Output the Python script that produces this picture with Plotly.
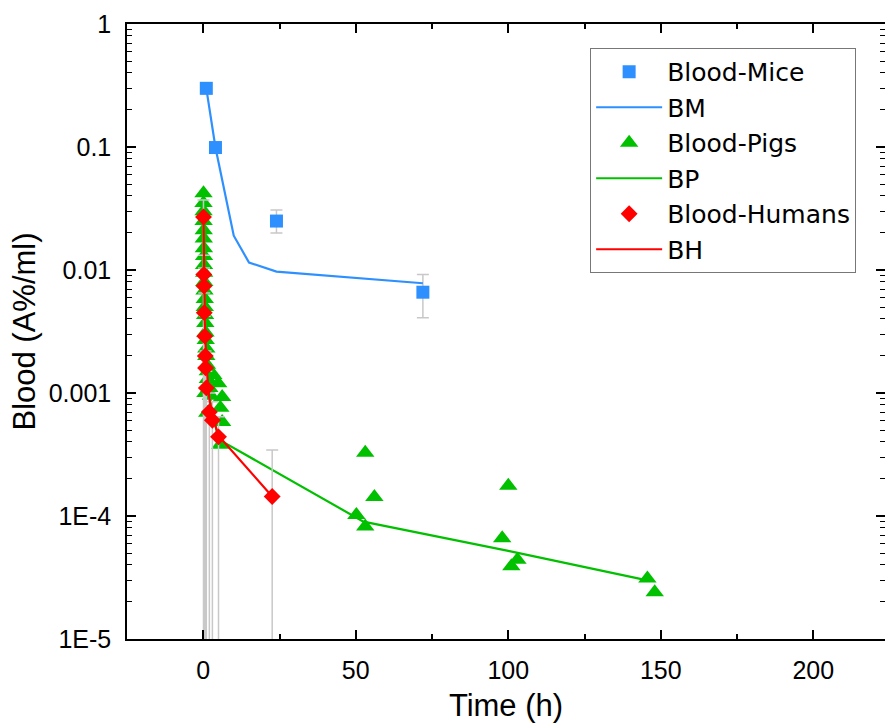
import plotly.graph_objects as go

# ---------------- data ----------------
mice_t = [1, 4, 24, 72]
mice_v = [0.30, 0.099, 0.025, 0.0066]
mice_err_plus = [0.03, 0.006, 0.0057, 0.0026]
mice_err_minus = [0.03, 0.006, 0.005, 0.0025]

bm_t = [1, 4, 10, 15, 24, 72]
bm_v = [0.30, 0.099, 0.019, 0.0115, 0.0097, 0.0078]

pigs_t = [0.08, 0.08, 0.1, 0.12, 0.15, 0.17, 0.2, 0.25, 0.25, 0.3, 0.33, 0.4,
          0.5, 0.5, 0.6, 0.67, 0.75, 0.8, 1.0, 1.0, 1.2, 1.5, 1.5, 2.0, 2.5,
          0.7, 1.3, 3.3, 4.9, 6.2, 5.6, 6.2, 5.6,
          50.2, 53.1, 53.1, 56.1, 98, 100, 101, 103, 145.6, 148]
pigs_v = [0.042, 0.035, 0.030, 0.025, 0.021, 0.018, 0.015, 0.013, 0.011, 0.0095, 0.008, 0.0068,
          0.0058, 0.005, 0.0043, 0.0037, 0.0031, 0.0027, 0.0023, 0.002, 0.0017, 0.0015, 0.0013, 0.0011, 0.00095,
          0.001, 0.00069, 0.0014, 0.0012, 0.00093, 0.00076, 0.00058, 0.00038,
          1.02e-4, 3.27e-4, 8.2e-5, 1.43e-4, 6.6e-5, 1.76e-4, 3.9e-5, 4.4e-5, 3.1e-5, 2.4e-5]

bp_t = [0.08, 0.25, 0.5, 1, 2, 3, 5, 52.5, 100, 145.6]
bp_v = [0.04, 0.012, 0.0052, 0.0021, 0.001, 0.0007, 0.00042, 9.0e-5, 5.2e-5, 3.0e-5]

hum_t = [0.08, 0.17, 0.25, 0.33, 0.5, 0.67, 0.75, 1.0, 2.0, 3.0, 5.0, 22.6]
hum_v = [0.027, 0.0092, 0.0074, 0.0045, 0.0029, 0.002, 0.0016, 0.0011, 0.0007, 0.0006, 0.00044, 0.000144]
hum_err_plus = [0.01, 0.004, 0.003, 0.002, 0.0013, 0.0008, 0.0006, 0.0004, 0.0003, 0.00025, 0.0002, 0.0002]
hum_err_minus = [1, 1, 1, 1, 1, 1, 1, 1, 1, 1, 1, 1]

bh_t = [0.08, 0.17, 0.25, 0.5, 1, 2, 3, 5, 22.6]
bh_v = [0.027, 0.012, 0.0075, 0.0038, 0.0017, 0.0009, 0.00065, 0.00045, 0.000144]

x_ticks = [0, 50, 100, 150, 200]
y_ticks = [1, 0.1, 0.01, 0.001, 1e-4, 1e-5]
y_tick_text = ["1", "0.1", "0.01", "0.001", "1E-4", "1E-5"]

# ---------------- style ----------------
BLUE = "#2E90FF"
GREEN = "#00C000"
RED = "#FF0000"
ERR = "#C8C8C8"
FONT = "Liberation Sans, Arial, sans-serif"
LEGFONT = "DejaVu Sans, Liberation Sans, sans-serif"

minor_y = [k * 10.0 ** e for e in range(-5, 0) for k in range(2, 10)]

fig = go.Figure()

fig.add_trace(go.Scatter(
    x=mice_t, y=mice_v, mode="markers", name="Blood-Mice",
    marker=dict(symbol="square", size=13, color=BLUE),
    error_y=dict(type="data", array=mice_err_plus, arrayminus=mice_err_minus,
                 color=ERR, thickness=1.5, width=6),
))
fig.add_trace(go.Scatter(
    x=bm_t, y=bm_v, mode="lines", name="BM",
    line=dict(color=BLUE, width=2.2),
))
fig.add_trace(go.Scatter(
    x=pigs_t, y=pigs_v, mode="markers", name="Blood-Pigs",
    marker=dict(symbol="triangle-up", size=16, color=GREEN),
))
fig.add_trace(go.Scatter(
    x=bp_t, y=bp_v, mode="lines", name="BP",
    line=dict(color=GREEN, width=2.2),
))
fig.add_trace(go.Scatter(
    x=hum_t, y=hum_v, mode="markers", name="Blood-Humans",
    marker=dict(symbol="diamond", size=13, color=RED),
    error_y=dict(type="data", array=hum_err_plus, arrayminus=hum_err_minus,
                 color=ERR, thickness=1.5, width=6),
))
fig.add_trace(go.Scatter(
    x=bh_t, y=bh_v, mode="lines", name="BH",
    line=dict(color=RED, width=2.2),
))
# invisible trace to carry right-hand tick axis
fig.add_trace(go.Scatter(
    x=[None], y=[None], yaxis="y2", showlegend=False, hoverinfo="skip",
))

fig.update_layout(
    width=885, height=726,
    margin=dict(l=127, r=0, t=24, b=87),
    paper_bgcolor="white", plot_bgcolor="white",
    font=dict(family=FONT, size=25, color="black"),
    showlegend=True,
    legend=dict(
        x=0.611, y=0.961, xanchor="left", yanchor="top",
        bgcolor="white", bordercolor="#777777", borderwidth=1,
        font=dict(family=LEGFONT, size=25, color="black"),
        itemwidth=66, tracegroupgap=0,
    ),
    xaxis=dict(
        range=[-25, 223.5], showgrid=False, zeroline=False,
        showline=True, linecolor="black", linewidth=1.5, mirror="ticks",
        ticks="inside", ticklen=9, tickwidth=1.5, tickcolor="black",
        tickvals=x_ticks, ticktext=[str(v) for v in x_ticks],
        minor=dict(ticks="inside", ticklen=5, tickwidth=1.5, tickcolor="black", dtick=25, tick0=0),
        tickfont=dict(size=25), ticklabelstandoff=8,
        title=dict(text="Time (h)", font=dict(size=31), standoff=12),
    ),
    yaxis=dict(
        type="log", range=[-5, 0], showgrid=False, zeroline=False,
        showline=True, linecolor="black", linewidth=1.5, mirror=False,
        ticks="inside", ticklen=9, tickwidth=1.5, tickcolor="black",
        tickvals=y_ticks, ticktext=y_tick_text,
        minor=dict(ticks="inside", ticklen=5, tickwidth=1.2, tickcolor="black", tickvals=minor_y),
        tickfont=dict(size=25), ticklabelstandoff=9,
        title=dict(text="Blood (A%/ml)", font=dict(size=31), standoff=4),
    ),
    yaxis2=dict(
        type="log", range=[-5, 0], overlaying="y", side="right", anchor="x",
        showgrid=False, zeroline=False, showline=False, showticklabels=False,
        ticks="inside", ticklen=9, tickwidth=1.5, tickcolor="black",
        tickvals=y_ticks,
        minor=dict(ticks="inside", ticklen=5, tickwidth=1.2, tickcolor="black", tickvals=minor_y),
    ),
)

fig.write_html("out.html")
